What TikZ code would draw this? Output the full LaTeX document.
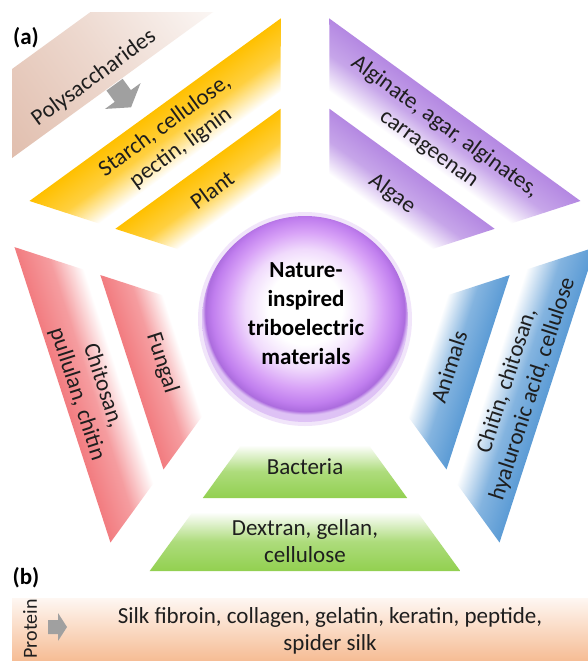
\documentclass[tikz,border=0pt]{standalone}
\usepackage{fontspec}
\setmainfont{Carlito}
\definecolor{cgreen}{RGB}{146,208,80}
\definecolor{cred}{RGB}{242,124,128}
\definecolor{cyellow}{RGB}{255,192,0}
\definecolor{cpurple}{RGB}{180,136,226}
\definecolor{cblue}{RGB}{91,155,213}
\definecolor{ctan}{RGB}{222,184,166}
\definecolor{cpeach}{RGB}{246,188,148}
\definecolor{clavA}{RGB}{240,218,252}
\definecolor{clavB}{RGB}{216,162,247}
\definecolor{clavC}{RGB}{192,126,238}
\definecolor{clavE}{RGB}{172,108,222}
\definecolor{clavD}{RGB}{222,194,245}
\definecolor{cglow}{RGB}{232,212,248}
\definecolor{cgray}{RGB}{160,160,160}
\definecolor{ctext}{RGB}{30,30,30}
\pgfdeclareradialshading{glow}{\pgfpoint{0bp}{3.5bp}}{color(0bp)=(white); color(9bp)=(white); color(14.5bp)=(clavA); color(19bp)=(clavB); color(22.5bp)=(clavC); color(24.2bp)=(clavE); color(25bp)=(clavD); color(50bp)=(clavD)}
\tikzset{
  lbl/.style={font=\fontsize{23}{27}\selectfont, text=ctext, align=center, inner sep=0pt},
  boldlbl/.style={font=\fontsize{23}{29}\selectfont\bfseries, text=black, align=center, inner sep=0pt},
  arrowshape/.style={fill=cgray, draw=none}
}
\newcommand\mysector[2]{%
  \begin{scope}[transform canvas={shift={(305,-316)},rotate=#1}]
    \shade[top color=white, bottom color=#2, middle color=#2!75!white]
      (-63.7,-129) -- (63.7,-129) -- (102.2,-182) -- (-102.2,-182) -- cycle;
    \shade[top color=white, bottom color=#2, middle color=#2!75!white]
      (-112.4,-196) -- (112.4,-196) -- (155.3,-255) -- (-155.3,-255) -- cycle;
  \end{scope}}
\begin{document}
\begin{tikzpicture}[x=1pt,y=1pt]
\useasboundingbox (0,0) rectangle (588,-661);
\fill[white] (0,0) rectangle (588,-661);
% polysaccharides band
\begin{scope}
  \clip (12,-13) rectangle (588,-661);
  \begin{scope}[transform canvas={shift={(305,-316)},rotate=-144}]
    \shade[left color=white, right color=ctan, middle color=ctan!55!white] (-140,-300) rectangle (175,-372);
  \end{scope}
\end{scope}
% sectors
\mysector{0}{cgreen}
\mysector{-72}{cred}
\mysector{-144}{cyellow}
\mysector{-216}{cpurple}
\mysector{-288}{cblue}
% centre
\fill[cglow, opacity=0.6] (305,-319) circle (107);
\shade[shading=glow] (305,-319) circle (103);
\node[boldlbl] (centre) at (306,-314) {Nature-\\inspired\\triboelectric\\materials};
% arrows
\fill[arrowshape, shift={(122.8,-96)}, rotate=-54]
  (-14,-10) -- (0,-10) -- (0,-22) -- (14,0) -- (0,22) -- (0,10) -- (-14,10) -- cycle;
% protein band
\shade[top color=cpeach!12!white, bottom color=cpeach] (12,-598) rectangle (588,-661);
\fill[arrowshape, shift={(56,-627)}]
  (-8,-7) -- (2,-7) -- (2,-14) -- (11,0) -- (2,14) -- (2,7) -- (-8,7) -- cycle;
% labels
\node[boldlbl] (la) at (26,-38) {(a)};
\node[boldlbl] (lb) at (26,-578) {(b)};
\node[lbl, rotate=36] (poly) at (94,-78) {Polysaccharides};
\node[lbl] (bact) at (305,-467) {Bacteria};
\node[lbl] (dext) at (305,-541) {Dextran, gellan,\\cellulose};
\node[lbl, rotate=-72] (fung) at (162,-363) {Fungal};
\node[lbl, rotate=-72] (chitosan) at (90,-390) {Chitosan,\\pullulan, chitin};
\node[lbl, rotate=36] (plant) at (212,-190) {Plant};
\node[lbl, rotate=36] (starch) at (173,-137) {Starch, cellulose,\\pectin, lignin};
\node[lbl, rotate=-36] (algae) at (392,-194) {Algae};
\node[lbl, rotate=-36] (algin) at (437,-138) {Alginate, agar, alginates,\\carrageenan};
\node[lbl, rotate=72] (anim) at (449,-367) {Animals};
\node[lbl, rotate=72] (chitin) at (520,-385) {Chitin, chitosan,\\hyaluronic acid, cellulose};
\node[lbl, font=\fontsize{20}{24}\selectfont, rotate=90] (prot) at (30,-629) {Protein};
\node[lbl] (silk) at (330,-631) {Silk fibroin, collagen, gelatin, keratin, peptide,\\spider silk};
\end{tikzpicture}
\end{document}
